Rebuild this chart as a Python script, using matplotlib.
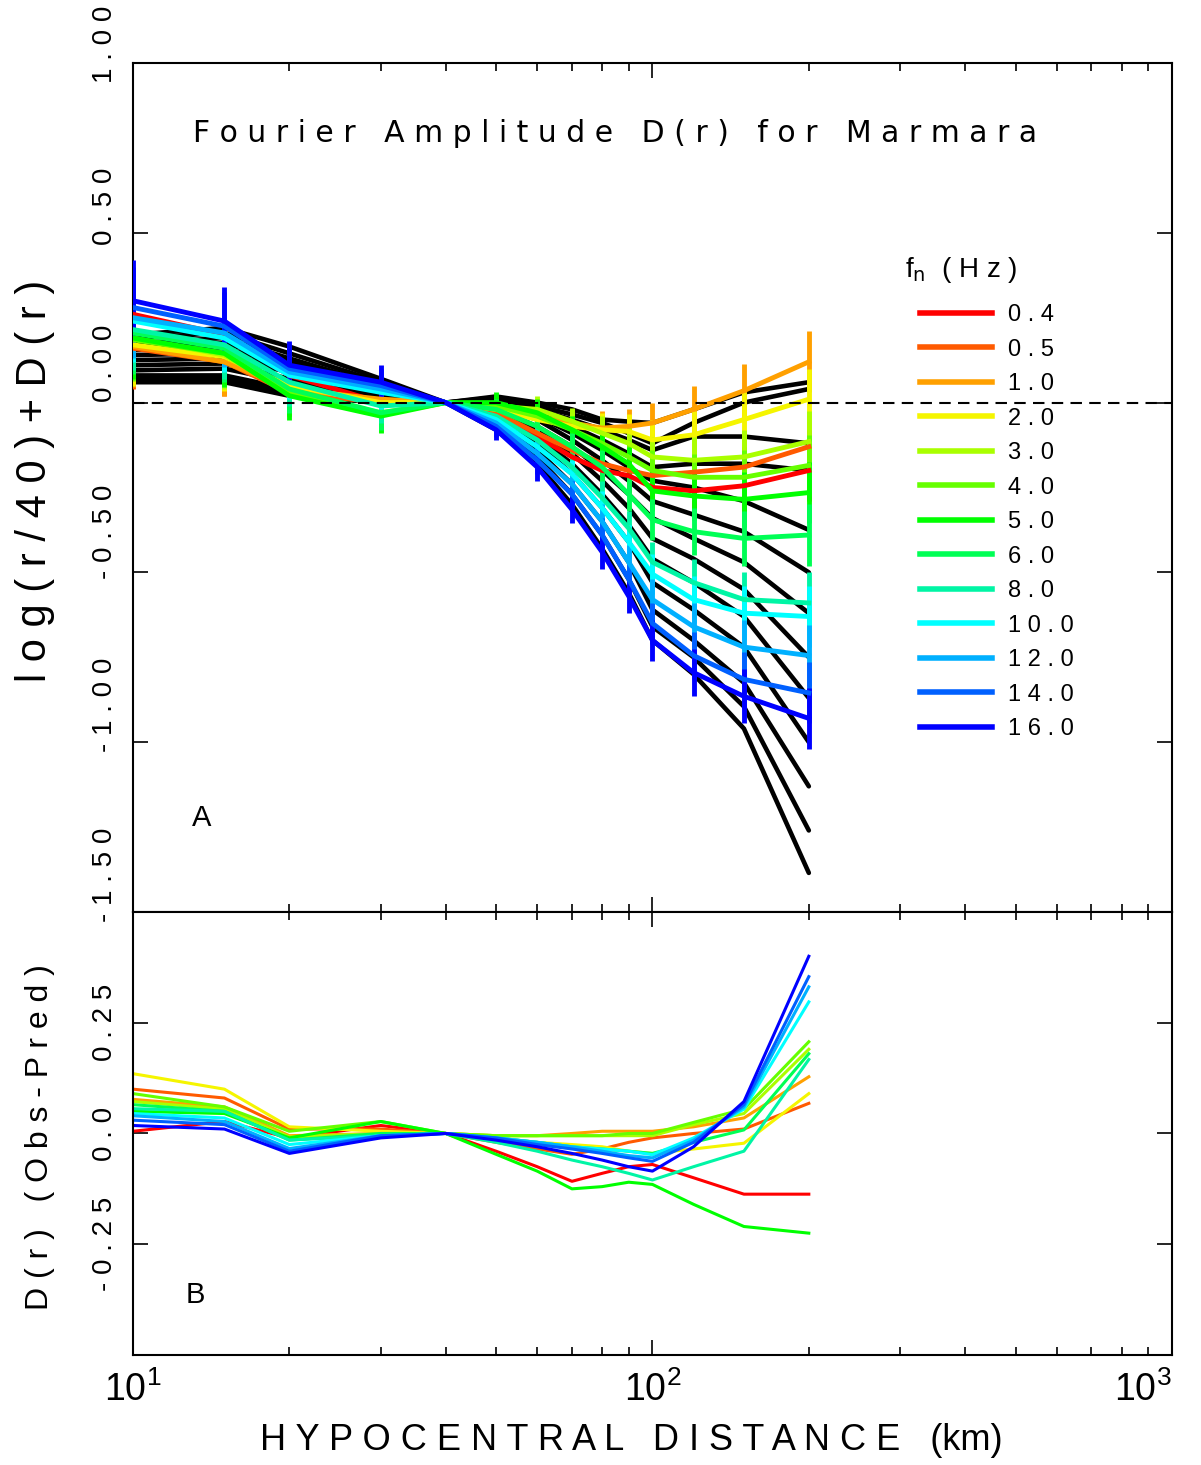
import matplotlib
matplotlib.use("Agg")
import matplotlib.pyplot as plt
from matplotlib.lines import Line2D
from matplotlib.transforms import blended_transform_factory, ScaledTranslation

NARROW = ["Liberation Sans", "DejaVu Sans"]


def spaced(s):
    return " ".join(s)


# distances (km)
dist = [10, 15, 20, 30, 40, 50, 60, 70, 80, 90, 100, 120, 150, 200]

freqs = ["0.4", "0.5", "1.0", "2.0", "3.0", "4.0", "5.0", "6.0", "8.0", "10.0", "12.0", "14.0", "16.0"]
colors = ["#ff0000", "#ff5a00", "#ffa000", "#f5f500", "#aaff00", "#66ff00", "#00ff00",
          "#00ff55", "#00f5a5", "#00ffff", "#00b0ff", "#0060ff", "#0000ff"]

# observed log(r/40)+D(r)
obs_04 = [0.26, 0.20, 0.08, 0.00, 0, -0.04, -0.10, -0.16, -0.20, -0.215, -0.25, -0.26, -0.245, -0.20]
obs_05 = [0.16, 0.12, 0.03, 0.00, 0, -0.03, -0.09, -0.14, -0.18, -0.20, -0.215, -0.205, -0.19, -0.13]
obs_1 = [0.165, 0.12, 0.04, 0.01, 0, -0.02, -0.04, -0.06, -0.075, -0.07, -0.06, -0.02, 0.035, 0.12]
obs_2 = [0.17, 0.135, 0.05, 0.00, 0, -0.02, -0.05, -0.07, -0.08, -0.085, -0.11, -0.095, -0.05, 0.01]
obs_3 = [0.19, 0.14, 0.03, -0.03, 0, -0.01, -0.02, -0.055, -0.09, -0.12, -0.16, -0.17, -0.16, -0.115]
obs_4 = [0.185, 0.145, 0.03, -0.035, 0, -0.01, -0.04, -0.08, -0.12, -0.16, -0.20, -0.22, -0.22, -0.185]
obs_5 = [0.19, 0.145, 0.02, -0.04, 0, 0.00, -0.03, -0.08, -0.13, -0.18, -0.26, -0.275, -0.285, -0.265]
obs_6 = [0.205, 0.16, 0.04, -0.03, 0, -0.02, -0.07, -0.13, -0.19, -0.27, -0.345, -0.38, -0.40, -0.39]
obs_8 = [0.215, 0.17, 0.06, -0.01, 0, -0.04, -0.11, -0.19, -0.28, -0.37, -0.47, -0.53, -0.58, -0.59]
obs_10 = [0.24, 0.19, 0.08, 0.03, 0, -0.05, -0.13, -0.21, -0.31, -0.41, -0.505, -0.58, -0.62, -0.63]
obs_12 = [0.25, 0.205, 0.09, 0.04, 0, -0.06, -0.15, -0.24, -0.35, -0.47, -0.58, -0.66, -0.72, -0.745]
obs_14 = [0.28, 0.225, 0.10, 0.05, 0, -0.07, -0.17, -0.27, -0.39, -0.52, -0.65, -0.745, -0.815, -0.855]
obs_16 = [0.30, 0.24, 0.11, 0.06, 0, -0.08, -0.19, -0.315, -0.44, -0.57, -0.70, -0.795, -0.865, -0.93]

# error bar half-lengths by distance
err = [0.12, 0.10, 0.07, 0.05, 0.0, 0.03, 0.04, 0.04, 0.05, 0.05, 0.06, 0.07, 0.08, 0.09]

# predicted curves (black)
pred_04 = [0.06, 0.06, 0.02, 0.00, 0, 0.018, 0.00, -0.02, -0.05, -0.056, -0.06, -0.02, 0.03, 0.06]
pred_05 = [0.065, 0.065, 0.025, 0.00, 0, 0.015, -0.01, -0.035, -0.06, -0.09, -0.12, -0.06, 0.00, 0.04]
pred_1 = [0.07, 0.07, 0.03, 0.005, 0, 0.01, -0.02, -0.05, -0.08, -0.11, -0.14, -0.10, -0.10, -0.12]
pred_2 = [0.08, 0.08, 0.04, 0.01, 0, 0.005, -0.03, -0.07, -0.11, -0.15, -0.19, -0.18, -0.18, -0.20]
pred_3 = [0.095, 0.10, 0.06, 0.015, 0, 0.00, -0.04, -0.09, -0.14, -0.19, -0.23, -0.25, -0.29, -0.375]
pred_4 = [0.11, 0.115, 0.07, 0.02, 0, -0.01, -0.05, -0.11, -0.17, -0.23, -0.29, -0.33, -0.38, -0.50]
pred_5 = [0.125, 0.13, 0.09, 0.025, 0, -0.02, -0.07, -0.13, -0.20, -0.27, -0.34, -0.40, -0.47, -0.62]
pred_6 = [0.14, 0.145, 0.10, 0.03, 0, -0.03, -0.08, -0.15, -0.23, -0.31, -0.40, -0.46, -0.55, -0.75]
pred_8 = [0.155, 0.16, 0.11, 0.04, 0, -0.04, -0.10, -0.18, -0.27, -0.36, -0.46, -0.53, -0.63, -0.87]
pred_10 = [0.165, 0.175, 0.12, 0.045, 0, -0.05, -0.12, -0.21, -0.31, -0.41, -0.53, -0.61, -0.72, -1.00]
pred_12 = [0.175, 0.19, 0.13, 0.05, 0, -0.06, -0.14, -0.24, -0.35, -0.47, -0.61, -0.70, -0.825, -1.13]
pred_14 = [0.19, 0.205, 0.145, 0.06, 0, -0.07, -0.16, -0.27, -0.39, -0.52, -0.66, -0.75, -0.895, -1.26]
pred_16 = [0.20, 0.22, 0.165, 0.07, 0, -0.08, -0.18, -0.30, -0.43, -0.56, -0.70, -0.80, -0.96, -1.385]

# residuals Obs-Pred (bottom panel)
res_04 = [0.005, 0.027, -0.01, 0.018, 0, -0.04, -0.075, -0.108, -0.09, -0.075, -0.07, -0.10, -0.137, -0.137]
res_05 = [0.10, 0.08, 0.01, 0.01, 0, -0.02, -0.035, -0.047, -0.035, -0.02, -0.01, 0.00, 0.01, 0.068]
res_1 = [0.077, 0.06, -0.005, 0.00, 0, -0.005, -0.005, 0.00, 0.005, 0.005, 0.005, 0.015, 0.035, 0.128]
res_2 = [0.135, 0.10, 0.015, 0.005, 0, -0.01, -0.02, -0.025, -0.03, -0.04, -0.045, -0.035, -0.022, 0.09]
res_3 = [0.072, 0.055, -0.008, 0.00, 0, -0.005, -0.005, -0.005, -0.005, -0.005, -0.005, 0.02, 0.045, 0.19]
res_4 = [0.09, 0.06, 0.005, 0.027, 0, -0.005, -0.005, -0.005, -0.005, 0.00, 0.00, 0.025, 0.055, 0.207]
res_5 = [0.05, 0.045, -0.01, 0.027, 0, -0.047, -0.085, -0.125, -0.12, -0.11, -0.115, -0.16, -0.21, -0.225]
res_6 = [0.065, 0.05, -0.015, 0.00, 0, -0.01, -0.02, -0.03, -0.035, -0.04, -0.045, -0.02, 0.008, 0.18]
res_8 = [0.056, 0.05, -0.015, -0.005, 0, -0.02, -0.04, -0.06, -0.075, -0.09, -0.105, -0.075, -0.04, 0.167]
res_10 = [0.045, 0.035, -0.025, -0.005, 0, -0.01, -0.02, -0.03, -0.035, -0.04, -0.048, -0.01, 0.055, 0.297]
res_12 = [0.04, 0.027, -0.034, -0.005, 0, -0.01, -0.02, -0.03, -0.04, -0.05, -0.055, -0.015, 0.06, 0.331]
res_14 = [0.03, 0.02, -0.04, -0.005, 0, -0.01, -0.025, -0.035, -0.045, -0.055, -0.063, -0.02, 0.065, 0.354]
res_16 = [0.018, 0.01, -0.045, -0.01, 0, -0.015, -0.03, -0.045, -0.06, -0.075, -0.085, -0.03, 0.072, 0.40]

obs = [obs_04, obs_05, obs_1, obs_2, obs_3, obs_4, obs_5, obs_6, obs_8, obs_10, obs_12, obs_14, obs_16]
pred = [pred_04, pred_05, pred_1, pred_2, pred_3, pred_4, pred_5, pred_6, pred_8, pred_10, pred_12, pred_14, pred_16]
resid = [res_04, res_05, res_1, res_2, res_3, res_4, res_5, res_6, res_8, res_10, res_12, res_14, res_16]

top_ticks = [-1.5, -1.0, -0.5, 0.0, 0.5, 1.0]
top_labels = ["-1.50", "-1.00", "-0.50", "0.00", "0.50", "1.00"]
top_shift = [0.37, 0.37, 0.41, 0.39, 0.26, 0.19]  # label nudge upward, inches
bot_ticks = [-0.25, 0.0, 0.25]
bot_labels = ["-0.25", "0.0", "0.25"]

fig = plt.figure(figsize=(12.01, 14.65), dpi=100)
ax1 = fig.add_axes([0.1107, 0.3775, 0.8651, 0.5795])
ax2 = fig.add_axes([0.1107, 0.0751, 0.8651, 0.3024], sharex=ax1)

# Top panel
for p in pred:
    ax1.plot(dist, p, color="black", lw=3.3, solid_capstyle="round", zorder=2)
for o, c in zip(obs, colors):
    ax1.errorbar(dist, o, yerr=err, color=c, lw=3.5, elinewidth=3.5, capsize=0, zorder=3)
ax1.axhline(0, color="black", ls=(0, (5.5, 3.5)), lw=1.5, zorder=4)

# Bottom panel
for r, c in zip(resid, colors):
    ax2.plot(dist, r, color=c, lw=2.2)

ax1.set_xscale("log")
ax1.set_xlim(10, 1000)
ax1.set_ylim(-1.5, 1.0)
ax2.set_ylim(-0.5, 0.5)
ax2.set_xticks([10, 100, 1000])

for ax, ticks in [(ax1, top_ticks), (ax2, bot_ticks)]:
    ax.set_yticks(ticks)
    ax.tick_params(which="both", direction="in", top=True, right=True, labelleft=False, width=1.2)
    ax.tick_params(which="major", length=11)
    ax.tick_params(which="minor", length=6)
    for s in ax.spines.values():
        s.set_linewidth(1.5)
ax1.tick_params(labelbottom=False)
ax2.tick_params(axis="x", labelsize=27, pad=12)
for tk in ax2.xaxis.get_major_ticks():
    tk.label1.set_family(NARROW)
ax2.xaxis.get_major_ticks()[-1].label1.set_horizontalalignment("right")

# rotated y tick labels
for v, t, sh in zip(top_ticks, top_labels, top_shift):
    tr = blended_transform_factory(ax1.transAxes, ax1.transData) + ScaledTranslation(0, sh, fig.dpi_scale_trans)
    ax1.text(-0.027, v, spaced(t), transform=tr, rotation=90, ha="center", va="center",
             fontsize=20, family=NARROW, clip_on=False)
tr2 = blended_transform_factory(ax2.transAxes, ax2.transData)
for v, t in zip(bot_ticks, bot_labels):
    ax2.text(-0.027, v, spaced(t), transform=tr2, rotation=90, ha="center", va="center",
             fontsize=20, family=NARROW, clip_on=False)

ax1.text(0.464, 0.9175, "   ".join(spaced(w) for w in "Fourier Amplitude D(r) for Marmara".split()),
         transform=ax1.transAxes, ha="center", va="center", fontsize=21.5, family="DejaVu Sans")
ax1.text(0.066, 0.111, "A", transform=ax1.transAxes, ha="center", va="center", fontsize=21, family=NARROW)
ax2.text(0.06, 0.135, "B", transform=ax2.transAxes, ha="center", va="center", fontsize=21, family=NARROW)

# legend
ax1.text(0.743, 0.756, r"f$_{\mathrm{n}}$  " + spaced("(Hz)"), transform=ax1.transAxes,
         ha="left", va="center", fontsize=20, family=NARROW)
handles = [Line2D([], [], color=c, lw=4) for c in colors]
leg = ax1.legend(handles, [spaced(f) for f in freqs], loc="upper left", bbox_to_anchor=(0.7575, 0.716),
                 frameon=False, prop={"family": NARROW, "size": 17}, handlelength=3.05,
                 handletextpad=0.68, labelspacing=0.53, borderpad=0, borderaxespad=0)

fig.text(0.526, 0.017, "   ".join(spaced(w) for w in ["HYPOCENTRAL", "DISTANCE"]) + "   (km)",
         ha="center", va="center", fontsize=26, family=NARROW)
fig.text(0.029, 0.672, spaced("log(r/40)+D(r)"), rotation=90, ha="center", va="center",
         fontsize=30, family=NARROW)
fig.text(0.033, 0.224, spaced("D(r)") + "   " + spaced("(Obs-Pred)"), rotation=90, ha="center",
         va="center", fontsize=23, family=NARROW)

fig.savefig("out.png", dpi=100)
